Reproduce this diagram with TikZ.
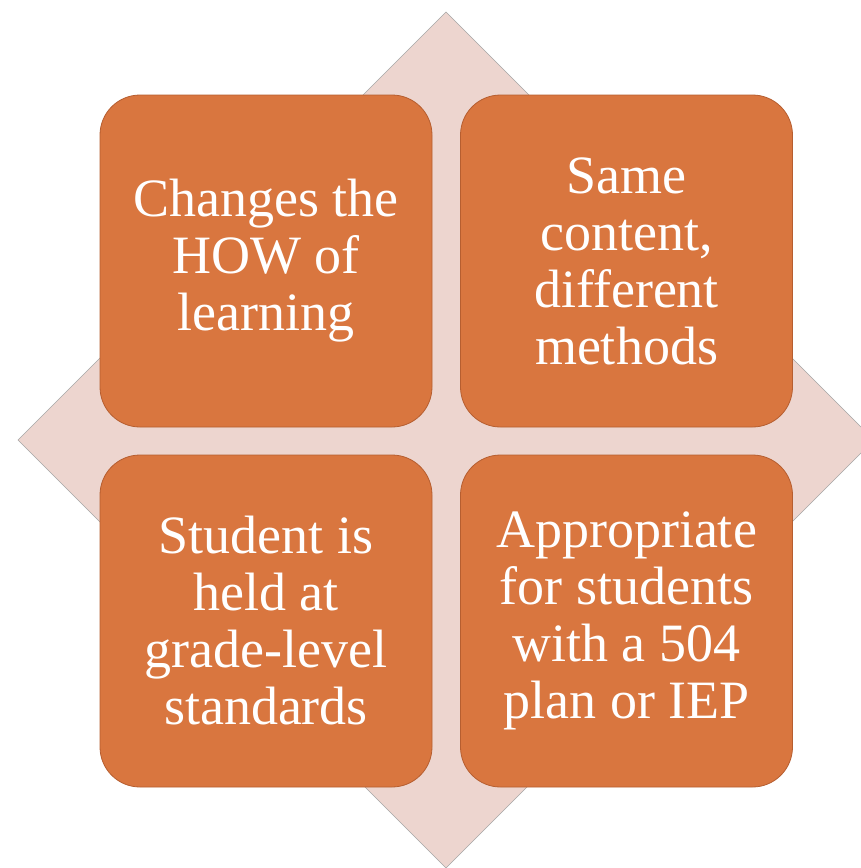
\documentclass[tikz,border=0pt]{standalone}
\usepackage{fontspec}
\setmainfont{Liberation Serif}
\usepackage{tikz}
\usetikzlibrary{positioning}
\definecolor{blush}{HTML}{EDD5CF}
\definecolor{rust}{HTML}{D9763F}
\definecolor{rustedge}{HTML}{B65E30}
\tikzset{
  card/.style={
    shape = rectangle,
    fill = rust,
    draw = rustedge,
    line width = 0.8pt,
    rounded corners = 40pt,
    minimum width = 332pt,
    minimum height = 332pt,
    inner sep = 0pt,
    text = white,
    align = center,
    font = \fontsize{54}{57}\selectfont
  },
  backing/.style={
    fill = blush,
    draw = gray!70,
    line width = 0.6pt
  }
}

\begin{document}
\begin{tikzpicture}[x=1pt,y=-1pt]
  \useasboundingbox[fill=white] (0,0) rectangle (861,868);
  % the pale square turned on its corner behind the cards
  \coordinate (top) at (446,12);
  \coordinate (left) at (18,440);
  \coordinate (right) at (874,440);
  \coordinate (bottom) at (446,868);
  \filldraw[backing] (top) -- (right) -- (bottom) -- (left) -- cycle;
  % the four cards
  \node[card] (how) at (266,261) {Changes the\\HOW of\\learning};
  \node[card] (same) at (626.5,261) {Same\\content,\\different\\methods};
  \node[card] (held) at (266,621) {Student is\\held at\\grade-level\\standards};
  \node[card] (plan) at (626.5,621) {Appropriate\\for students\\with a 504\\plan or IEP};
\end{tikzpicture}
\end{document}
